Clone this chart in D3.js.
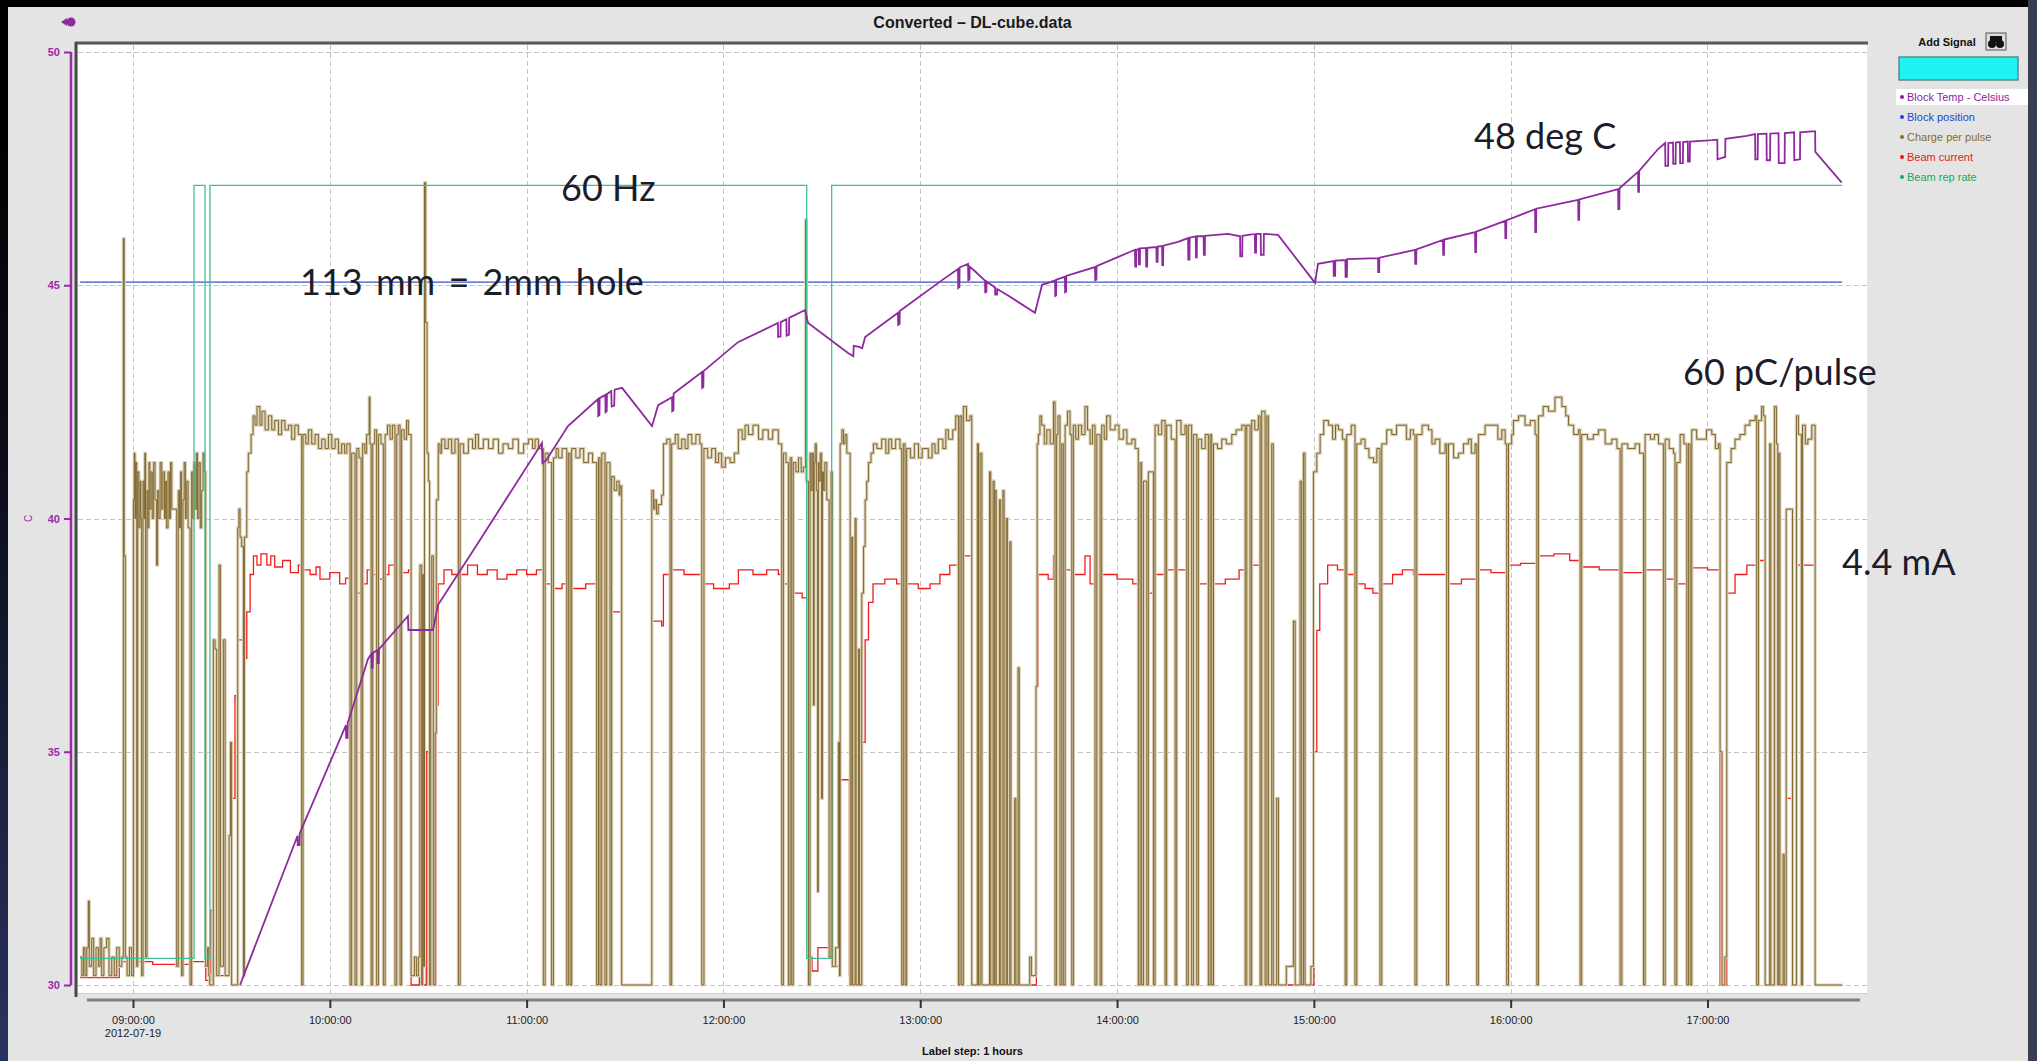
<!DOCTYPE html>
<html><head><meta charset="utf-8">
<script src="https://cdn.jsdelivr.net/npm/d3@7"></script>
<style>
html,body{margin:0;padding:0;background:#000;overflow:hidden}
svg{display:block}
</style></head><body>
<svg id="chart" width="2037" height="1061"></svg>
<script>
// ---------------- DATA (time in decimal hours of 2012-07-19) ----------------
const chartTitle = "Converted \u2013 DL-cube.data";
const hourTicks = [9, 10, 11, 12, 13, 14, 15, 16, 17];
const hourTickLabels = ["09:00:00", "10:00:00", "11:00:00", "12:00:00", "13:00:00", "14:00:00", "15:00:00", "16:00:00", "17:00:00"];
const dateLabel = "2012-07-19";
const xAxisCaption = "Label step: 1 hours";
const tempTicks = [30, 35, 40, 45, 50];
const legendNames = ["Block Temp - Celsius", "Block position", "Charge per pulse", "Beam current", "Beam rep rate"];

// Block temperature, deg C
const blockTemp = [[9.544,30.0],[9.836,33.2],[9.837,33.0],[9.846,33.0],[9.847,33.25],[10.082,35.57],[10.083,35.3],[10.090,35.3],[10.091,35.62],[10.194,36.99],[10.212,37.10],[10.213,36.8],[10.218,36.8],[10.219,37.12],[10.243,37.18],[10.244,36.9],[10.249,36.9],[10.250,37.2],[10.397,37.91],[10.399,37.61],[10.524,37.61],[10.550,38.15],[10.763,39.54],[11.078,41.62],[11.080,41.19],[11.100,41.25],[11.210,41.98],[11.363,42.56],[11.364,42.20],[11.370,42.22],[11.371,42.58],[11.400,42.65],[11.401,42.28],[11.407,42.30],[11.408,42.67],[11.430,42.73],[11.432,42.40],[11.445,42.42],[11.447,42.76],[11.485,42.80],[11.637,41.98],[11.668,42.43],[11.739,42.60],[11.740,42.30],[11.746,42.32],[11.747,42.68],[11.891,43.14],[11.892,42.80],[11.898,42.82],[11.899,43.16],[12.074,43.78],[12.277,44.19],[12.278,43.89],[12.290,43.90],[12.291,44.21],[12.320,44.27],[12.321,43.92],[12.333,43.94],[12.334,44.30],[12.415,44.47],[12.430,44.19],[12.633,43.55],[12.660,43.48],[12.662,43.70],[12.690,43.68],[12.705,43.65],[12.720,43.89],[12.887,44.41],[12.888,44.15],[12.895,44.17],[12.896,44.45],[13.111,45.11],[13.192,45.35],[13.193,44.94],[13.199,44.96],[13.200,45.38],[13.243,45.46],[13.244,45.11],[13.250,45.12],[13.251,45.40],[13.278,45.30],[13.329,45.10],[13.330,44.85],[13.336,44.86],[13.337,45.08],[13.380,44.95],[13.381,44.80],[13.390,44.80],[13.391,44.92],[13.446,44.78],[13.583,44.41],[13.619,45.01],[13.685,45.10],[13.686,44.77],[13.690,44.78],[13.691,45.12],[13.735,45.18],[13.736,44.85],[13.741,44.86],[13.742,45.20],[13.888,45.39],[13.889,45.11],[13.895,45.12],[13.896,45.41],[14.091,45.76],[14.092,45.40],[14.097,45.40],[14.098,45.76],[14.110,45.78],[14.111,45.45],[14.116,45.45],[14.117,45.79],[14.147,45.80],[14.148,45.40],[14.153,45.40],[14.154,45.80],[14.200,45.82],[14.201,45.50],[14.206,45.50],[14.207,45.83],[14.229,45.84],[14.230,45.43],[14.234,45.43],[14.235,45.85],[14.310,45.93],[14.361,46.01],[14.362,45.55],[14.368,45.55],[14.369,46.02],[14.400,46.05],[14.401,45.60],[14.405,45.60],[14.406,46.05],[14.440,46.05],[14.441,45.65],[14.446,45.65],[14.447,46.06],[14.564,46.10],[14.625,46.05],[14.626,45.62],[14.636,45.62],[14.637,46.06],[14.700,46.10],[14.701,45.70],[14.706,45.70],[14.707,46.10],[14.730,46.10],[14.731,45.65],[14.745,45.65],[14.746,46.10],[14.818,46.08],[15.006,45.05],[15.021,45.46],[15.100,45.52],[15.101,45.20],[15.108,45.20],[15.109,45.53],[15.160,45.54],[15.161,45.18],[15.168,45.18],[15.169,45.56],[15.326,45.58],[15.327,45.28],[15.332,45.28],[15.333,45.59],[15.514,45.76],[15.515,45.46],[15.520,45.46],[15.521,45.77],[15.656,45.97],[15.657,45.65],[15.661,45.65],[15.662,45.98],[15.819,46.14],[15.820,45.71],[15.824,45.71],[15.825,46.15],[15.972,46.38],[15.973,46.01],[15.977,46.01],[15.978,46.39],[16.124,46.63],[16.125,46.14],[16.129,46.14],[16.130,46.64],[16.343,46.83],[16.344,46.40],[16.348,46.40],[16.349,46.84],[16.546,47.06],[16.547,46.63],[16.552,46.63],[16.553,47.08],[16.647,47.43],[16.648,47.0],[16.652,47.0],[16.653,47.45],[16.749,47.92],[16.785,48.05],[16.786,47.56],[16.800,47.56],[16.801,48.05],[16.825,48.06],[16.826,47.60],[16.838,47.60],[16.839,48.06],[16.860,48.07],[16.861,47.62],[16.875,47.62],[16.876,48.07],[16.900,48.08],[16.901,47.65],[16.910,47.65],[16.911,48.08],[17.023,48.11],[17.050,48.12],[17.051,47.70],[17.090,47.75],[17.091,48.14],[17.200,48.20],[17.242,48.24],[17.243,47.70],[17.255,47.70],[17.256,48.24],[17.300,48.25],[17.301,47.68],[17.318,47.68],[17.319,48.25],[17.361,48.26],[17.362,47.62],[17.392,47.62],[17.393,48.26],[17.440,48.28],[17.441,47.68],[17.470,47.70],[17.471,48.28],[17.530,48.30],[17.547,48.30],[17.548,47.86],[17.682,47.20]];

// Block position, mm
const blockPosition = [[8.731,113],[17.684,113]];

// Beam rep rate, Hz (step)
const repRate = [[8.731,2],[9.310,60],[9.366,2],[9.391,60],[12.423,2],[12.550,60],[17.684,60]];

// Charge per pulse, pC (step)
const chargePerPulse = [[8.731,3],[8.740,1],[8.748,4],[8.756,1],[8.765,4],[8.773,9],[8.778,2],[8.790,5],[8.800,1],[8.812,4],[8.824,2],[8.833,5],[8.841,1],[8.852,4],[8.866,5],[8.878,1],[8.892,3],[8.905,1],[8.917,4],[8.930,2],[8.943,3],[8.951,80],[8.955,46],[8.961,3],[8.970,1],[8.982,4],[8.993,1],[9.002,52],[9.006,57],[9.010,50],[9.014,56],[9.019,2],[9.024,55],[9.030,49],[9.036,54],[9.040,50],[9.044,1],[9.051,54],[9.056,50],[9.060,57],[9.064,3],[9.071,53],[9.076,49],[9.081,56],[9.086,51],[9.092,55],[9.098,50],[9.105,56],[9.112,52],[9.120,45],[9.125,53],[9.131,50],[9.138,56],[9.146,51],[9.152,55],[9.160,50],[9.166,54],[9.171,49],[9.178,55],[9.185,50],[9.191,56],[9.197,51],[9.222,2],[9.230,53],[9.236,49],[9.242,55],[9.247,1],[9.254,52],[9.260,56],[9.266,50],[9.273,54],[9.280,49],[9.290,0],[9.298,55],[9.304,50],[9.310,56],[9.315,51],[9.322,57],[9.328,50],[9.335,56],[9.342,49],[9.349,53],[9.356,57],[9.362,55],[9.369,2],[9.379,4],[9.385,1],[9.390,0],[9.408,37],[9.417,36],[9.425,1],[9.437,45],[9.444,2],[9.459,37],[9.468,1],[9.488,16],[9.495,26],[9.501,0],[9.532,49],[9.538,51],[9.544,48],[9.552,47],[9.561,1],[9.566,48],[9.578,55],[9.586,57],[9.600,59],[9.610,61],[9.620,60],[9.630,62],[9.645,60],[9.655,61.5],[9.671,59.5],[9.688,61],[9.705,59.5],[9.720,60.5],[9.739,59],[9.755,60.5],[9.772,59.5],[9.790,60],[9.806,58.5],[9.822,60],[9.840,59],[9.857,0],[9.864,59],[9.878,58],[9.891,59.5],[9.908,58],[9.925,59],[9.942,57.5],[9.959,58.5],[9.976,57.5],[9.993,59],[10.010,57.5],[10.027,58.5],[10.044,57],[10.060,58],[10.075,57],[10.086,58],[10.103,0],[10.111,57],[10.128,0],[10.137,57.5],[10.148,56.5],[10.159,0],[10.167,58],[10.178,57],[10.187,59],[10.200,63],[10.204,58],[10.210,0],[10.218,58],[10.228,59.5],[10.238,0],[10.247,59],[10.260,58],[10.272,0],[10.281,59],[10.293,60],[10.306,58.5],[10.318,60],[10.331,0],[10.340,59],[10.348,60],[10.357,0],[10.365,59.5],[10.378,58.5],[10.390,60.5],[10.399,59],[10.413,1],[10.430,3],[10.440,1],[10.450,3],[10.458,45],[10.467,0],[10.472,44],[10.477,2],[10.481,86],[10.487,71],[10.494,57],[10.501,54],[10.507,0],[10.513,38],[10.518,46],[10.526,0],[10.535,27],[10.541,52],[10.551,58],[10.560,57],[10.568,58.5],[10.585,57.5],[10.602,58.5],[10.619,57],[10.636,58.5],[10.653,0],[10.662,58],[10.680,57],[10.704,58.5],[10.725,57.5],[10.740,59],[10.755,57.5],[10.780,58.5],[10.806,57.5],[10.830,58.5],[10.857,57],[10.880,58],[10.907,57.5],[10.930,58.5],[10.958,57],[10.985,58],[11.009,58.5],[11.030,57.5],[11.043,58.5],[11.060,57.5],[11.085,0],[11.094,57],[11.110,56],[11.127,0],[11.136,56.5],[11.150,57.5],[11.161,56.5],[11.180,57.5],[11.204,0],[11.212,57],[11.221,0],[11.229,57.5],[11.250,56.5],[11.271,57.5],[11.290,56],[11.314,57],[11.335,56],[11.356,0],[11.365,56.5],[11.373,0],[11.382,57],[11.398,0],[11.407,56],[11.424,0],[11.432,54.5],[11.445,53],[11.458,54],[11.470,52.5],[11.475,53.5],[11.483,0],[11.636,53],[11.645,51],[11.652,52],[11.660,50.5],[11.669,51.5],[11.686,52.5],[11.695,58],[11.712,58.5],[11.729,0],[11.737,58],[11.755,59],[11.770,57.5],[11.788,58.5],[11.805,57.5],[11.820,59],[11.839,58],[11.860,59],[11.880,58],[11.890,0],[11.901,57.5],[11.920,56.5],[11.940,57.5],[11.960,56],[11.975,57],[11.991,55.5],[12.010,56.5],[12.034,56],[12.055,57],[12.076,59.5],[12.095,58.5],[12.110,60],[12.127,59],[12.150,60],[12.178,58.5],[12.200,59.5],[12.228,58.5],[12.250,59.5],[12.279,58],[12.296,0],[12.305,57],[12.318,56],[12.330,0],[12.339,56.5],[12.347,0],[12.355,56],[12.368,55],[12.381,56.5],[12.395,55],[12.406,55.5],[12.418,82],[12.421,54],[12.432,0],[12.440,57],[12.445,53],[12.451,57],[12.457,30],[12.461,56],[12.466,58],[12.472,53],[12.479,10],[12.482,56],[12.486,54],[12.492,57],[12.499,20],[12.503,55],[12.508,53],[12.515,56],[12.525,52],[12.537,3],[12.547,55],[12.553,2],[12.570,4],[12.584,26],[12.590,1],[12.593,58],[12.602,59.5],[12.610,58],[12.618,59],[12.627,57],[12.644,0],[12.652,48],[12.657,0],[12.669,50],[12.674,0],[12.686,36],[12.692,0],[12.703,42],[12.712,47],[12.720,52],[12.728,54],[12.737,56],[12.750,57],[12.762,58],[12.780,57.5],[12.804,58.5],[12.825,57],[12.840,58.5],[12.855,57.5],[12.875,58.5],[12.897,57.5],[12.906,0],[12.914,58],[12.923,0],[12.931,57.5],[12.950,56.5],[12.970,58],[12.991,56.5],[13.010,57.5],[13.041,56.5],[13.060,58],[13.075,57],[13.092,58.5],[13.115,57.5],[13.130,59.5],[13.143,58.5],[13.165,59.5],[13.180,61],[13.194,0],[13.202,61],[13.211,0],[13.219,62],[13.235,60.5],[13.253,61],[13.262,0],[13.290,58],[13.296,0],[13.304,57],[13.313,0],[13.352,55],[13.358,0],[13.370,54],[13.376,0],[13.380,53],[13.386,0],[13.403,52],[13.409,0],[13.420,53],[13.426,0],[13.437,50],[13.443,0],[13.455,47.5],[13.461,0],[13.480,20],[13.486,0],[13.497,34],[13.503,0],[13.556,3],[13.565,1],[13.588,32],[13.594,58],[13.600,59],[13.608,61],[13.617,60],[13.630,58],[13.643,59.5],[13.660,58],[13.677,62.5],[13.685,0],[13.693,59],[13.700,61],[13.710,0],[13.719,58],[13.727,0],[13.736,60],[13.748,61.5],[13.761,59],[13.770,0],[13.778,60],[13.790,58.5],[13.804,60],[13.820,59],[13.837,62],[13.850,59.5],[13.863,58],[13.875,60],[13.888,0],[13.897,59],[13.914,0],[13.922,60],[13.935,58.5],[13.947,61],[13.965,59.5],[13.990,60],[14.010,58.5],[14.032,59.5],[14.050,58],[14.075,58.5],[14.092,57.5],[14.108,0],[14.117,56],[14.125,0],[14.134,54],[14.151,0],[14.159,55],[14.185,0],[14.193,60],[14.210,59],[14.227,60.5],[14.244,0],[14.252,60],[14.275,58.5],[14.295,0],[14.303,60.5],[14.325,59],[14.345,60],[14.354,0],[14.362,60],[14.379,0],[14.388,59],[14.405,0],[14.413,58.5],[14.430,57.5],[14.448,59],[14.464,0],[14.473,59],[14.481,0],[14.490,58],[14.510,57.5],[14.532,58.5],[14.555,58],[14.583,59],[14.605,59.5],[14.634,60],[14.651,0],[14.659,60],[14.676,0],[14.684,60.5],[14.700,59.5],[14.718,61],[14.727,0],[14.735,61.5],[14.752,0],[14.761,61],[14.769,0],[14.786,58],[14.794,0],[14.811,20],[14.820,0],[14.860,2],[14.896,39],[14.905,0],[14.930,54],[14.938,0],[14.947,57],[14.955,0],[14.985,2],[14.998,55],[15.015,57],[15.032,59],[15.050,60.5],[15.074,60],[15.095,58.5],[15.110,60],[15.125,59.5],[15.145,58.5],[15.159,0],[15.167,59],[15.190,60],[15.209,0],[15.218,58],[15.240,58.5],[15.260,57.5],[15.280,56.5],[15.303,56],[15.320,57.5],[15.336,0],[15.345,58],[15.370,59.5],[15.396,59],[15.420,60],[15.447,60],[15.470,58.5],[15.490,59.5],[15.506,59],[15.514,0],[15.523,59],[15.550,60],[15.582,59.5],[15.600,58],[15.616,58.5],[15.640,57],[15.667,58],[15.675,0],[15.684,58],[15.710,56.5],[15.735,57],[15.760,58],[15.785,58.5],[15.800,57],[15.819,58],[15.828,0],[15.836,59],[15.870,60],[15.904,60],[15.935,58.5],[15.955,59.5],[15.972,58],[15.980,0],[15.989,58],[16.005,59],[16.014,60.5],[16.040,61],[16.073,60],[16.100,60.5],[16.124,59],[16.133,0],[16.141,61],[16.165,62],[16.192,61.5],[16.225,63],[16.260,62],[16.280,61],[16.294,60],[16.320,59],[16.344,59.5],[16.353,0],[16.361,59],[16.390,58.5],[16.420,59],[16.446,59.5],[16.480,58],[16.514,58.5],[16.540,57.5],[16.556,0],[16.565,58],[16.595,57.5],[16.632,58],[16.655,57],[16.675,0],[16.683,59],[16.710,58.5],[16.730,59],[16.751,58],[16.776,0],[16.785,58.5],[16.805,57.5],[16.827,57],[16.835,0],[16.844,56],[16.861,59],[16.880,58],[16.895,0],[16.903,58],[16.912,0],[16.920,59.5],[16.945,58.5],[16.971,58.5],[16.995,59.5],[17.022,59],[17.040,57.5],[17.056,58],[17.064,25],[17.074,0],[17.088,3],[17.098,56],[17.120,57.5],[17.140,58.5],[17.165,59],[17.191,60],[17.215,60.5],[17.242,61],[17.250,0],[17.259,60.5],[17.275,62],[17.284,61],[17.293,0],[17.316,58],[17.322,0],[17.340,62],[17.350,58],[17.357,0],[17.362,57],[17.368,0],[17.384,14],[17.390,0],[17.400,51],[17.428,51],[17.432,0],[17.452,61],[17.462,59],[17.477,0],[17.483,60],[17.497,58],[17.510,58.5],[17.530,60],[17.547,0],[17.684,0]];

// Beam current, mA (step)
const beamCurrent = [[8.731,0.08],[8.930,0.25],[9.100,0.22],[9.300,0.25],[9.370,0.05],[9.395,0.8],[9.410,1.3],[9.425,0.1],[9.500,2.0],[9.518,3.1],[9.535,3.7],[9.561,3.5],[9.578,4.0],[9.595,4.4],[9.612,4.6],[9.630,4.5],[9.650,4.62],[9.680,4.5],[9.700,4.6],[9.720,4.48],[9.760,4.55],[9.800,4.42],[9.840,4.5],[9.857,0],[9.864,4.45],[9.900,4.4],[9.930,4.48],[9.950,4.35],[10.000,4.42],[10.050,4.3],[10.080,4.36],[10.103,0],[10.111,4.3],[10.128,0],[10.137,4.2],[10.159,0],[10.167,4.3],[10.190,4.45],[10.210,0],[10.218,4.4],[10.238,0],[10.247,4.35],[10.272,0],[10.281,4.4],[10.300,4.5],[10.331,0],[10.340,4.45],[10.357,0],[10.365,4.42],[10.400,4.45],[10.413,0],[10.455,4.4],[10.465,0],[10.490,2.5],[10.500,0],[10.520,1.5],[10.530,0],[10.540,3.0],[10.550,4.3],[10.580,4.45],[10.620,4.4],[10.653,0],[10.662,4.4],[10.700,4.5],[10.750,4.4],[10.800,4.45],[10.850,4.35],[10.900,4.4],[10.950,4.45],[11.000,4.4],[11.050,4.45],[11.085,0],[11.094,4.3],[11.127,0],[11.136,4.25],[11.180,4.3],[11.204,0],[11.212,4.3],[11.221,0],[11.229,4.25],[11.300,4.3],[11.356,0],[11.365,4.25],[11.373,0],[11.382,4.3],[11.398,0],[11.407,4.25],[11.424,0],[11.432,4.0],[11.483,0],[11.636,3.9],[11.686,3.85],[11.695,4.4],[11.729,0],[11.737,4.45],[11.800,4.4],[11.890,0],[11.901,4.3],[11.950,4.25],[12.030,4.3],[12.076,4.45],[12.150,4.4],[12.220,4.45],[12.279,4.4],[12.296,0],[12.305,4.3],[12.330,0],[12.339,4.2],[12.347,0],[12.355,4.2],[12.400,4.15],[12.425,0.3],[12.450,0.15],[12.480,0.4],[12.550,0.2],[12.590,2.2],[12.640,0.1],[12.700,2.6],[12.720,3.7],[12.737,4.1],[12.760,4.3],[12.820,4.35],[12.880,4.3],[12.906,0],[12.914,4.25],[12.923,0],[12.931,4.3],[12.990,4.25],[13.050,4.3],[13.100,4.4],[13.150,4.5],[13.194,0],[13.202,4.55],[13.211,0],[13.219,4.6],[13.262,0],[13.290,4.3],[13.296,0],[13.370,3.0],[13.380,0],[13.410,2.2],[13.420,0],[13.590,3.2],[13.600,4.4],[13.650,4.35],[13.677,4.6],[13.685,0],[13.693,4.4],[13.710,0],[13.719,4.3],[13.727,0],[13.736,4.45],[13.770,0],[13.778,4.4],[13.837,4.6],[13.863,4.3],[13.888,0],[13.897,4.4],[13.914,0],[13.922,4.4],[14.000,4.35],[14.080,4.3],[14.108,0],[14.117,4.1],[14.125,0],[14.134,4.1],[14.151,0],[14.159,4.2],[14.185,0],[14.193,4.4],[14.244,0],[14.252,4.45],[14.295,0],[14.303,4.45],[14.354,0],[14.362,4.4],[14.379,0],[14.388,4.35],[14.405,0],[14.413,4.3],[14.464,0],[14.473,4.35],[14.481,0],[14.490,4.3],[14.550,4.35],[14.620,4.45],[14.651,0],[14.659,4.45],[14.676,0],[14.684,4.5],[14.727,0],[14.735,4.55],[14.752,0],[14.761,4.5],[14.769,0],[15.000,2.5],[15.015,3.8],[15.030,4.3],[15.070,4.5],[15.120,4.45],[15.159,0],[15.167,4.4],[15.209,0],[15.218,4.3],[15.260,4.25],[15.300,4.2],[15.336,0],[15.345,4.3],[15.400,4.4],[15.450,4.45],[15.506,4.4],[15.514,0],[15.523,4.4],[15.600,4.4],[15.675,0],[15.684,4.3],[15.750,4.35],[15.828,0],[15.836,4.45],[15.900,4.42],[15.980,0],[15.989,4.5],[16.050,4.52],[16.133,0],[16.141,4.6],[16.220,4.62],[16.300,4.55],[16.353,0],[16.361,4.48],[16.450,4.45],[16.556,0],[16.565,4.42],[16.675,0],[16.683,4.45],[16.776,0],[16.785,4.35],[16.835,0],[16.844,4.3],[16.895,0],[16.903,4.4],[16.912,0],[16.920,4.47],[17.000,4.45],[17.064,0],[17.098,4.2],[17.140,4.4],[17.200,4.5],[17.250,0],[17.259,4.55],[17.293,0],[17.316,4.45],[17.322,0],[17.340,4.5],[17.357,0],[17.384,1.0],[17.390,0],[17.400,2.0],[17.432,0],[17.452,4.5],[17.477,0],[17.483,4.5],[17.547,0],[17.684,0]];

// ---------------- DRAWING ----------------
const W = 2037, H = 1061;
const svg = d3.select("#chart");
const P = {left: 78, right: 1867, top: 45, bottom: 993, y50: 52, y30: 985};
const colors = {temp: "#8e2a9e", pos: "#3a55c4", charge: "#6a4e0e", chargeHalo: "#ddd3ba", current: "#f01e1e", rep: "#3fbf96"};
const legendColors = ["#8b1c9c", "#2244cc", "#8a6d1e", "#e8141c", "#18a860"];

const defs = svg.append("defs");
const bg = defs.append("radialGradient").attr("id", "bg").attr("cx", "0").attr("cy", "1").attr("r", "0.9");
bg.append("stop").attr("offset", "0").attr("stop-color", "#2a3260");
bg.append("stop").attr("offset", "0.6").attr("stop-color", "#0c0e1c");
bg.append("stop").attr("offset", "1").attr("stop-color", "#000");
defs.append("clipPath").attr("id", "plotclip").append("rect")
  .attr("x", P.left).attr("y", P.top).attr("width", P.right - P.left).attr("height", P.bottom - P.top);

svg.append("rect").attr("width", W).attr("height", H).attr("fill", "url(#bg)");
svg.append("rect").attr("x", 2028).attr("y", 0).attr("width", 9).attr("height", H).attr("fill", "#3a3e52");
svg.append("rect").attr("x", 8).attr("y", 7).attr("width", 2020).attr("height", H - 7).attr("fill", "#e4e4e4");
svg.append("rect").attr("x", P.left).attr("y", P.top).attr("width", P.right - P.left).attr("height", P.bottom - P.top).attr("fill", "#fff");

// scales
const x = d3.scaleLinear().domain([8.7205, 17.8105]).range([P.left, P.right]);
const yTemp = d3.scaleLinear().domain([30, 50]).range([P.y30, P.y50]);
const yCharge = d3.scaleLinear().domain([0, 100]).range([P.y30, P.y50]);
const yCurrent = d3.scaleLinear().domain([0, 10]).range([P.y30, P.y50]);
const yRep = d3.scaleLinear().domain([0, 70]).range([P.y30, P.y50]);
const yPos = d3.scaleLinear().domain([0, 150]).range([P.y30, P.y50]);

// grid
const grid = svg.append("g").attr("stroke", "#c4c4c4").attr("stroke-width", 1).attr("stroke-dasharray", "5,3");
grid.selectAll("line.h").data(tempTicks).join("line").attr("class", "h")
  .attr("x1", P.left).attr("x2", P.right).attr("y1", d => Math.round(yTemp(d)) + 0.5).attr("y2", d => Math.round(yTemp(d)) + 0.5);
grid.selectAll("line.v").data(hourTicks).join("line").attr("class", "v")
  .attr("x1", d => Math.round(x(d)) + 0.5).attr("x2", d => Math.round(x(d)) + 0.5).attr("y1", P.top).attr("y2", P.bottom);

// frame
svg.append("line").attr("x1", 75).attr("x2", P.right + 1).attr("y1", 43).attr("y2", 43).attr("stroke", "#5a5a5a").attr("stroke-width", 3);
svg.append("line").attr("x1", 76).attr("x2", 76).attr("y1", 42).attr("y2", 997).attr("stroke", "#4a4a4a").attr("stroke-width", 3);
svg.append("line").attr("x1", P.left).attr("x2", P.right).attr("y1", P.bottom + 0.5).attr("y2", P.bottom + 0.5).attr("stroke", "#d0d0d0").attr("stroke-width", 1);

// series
const plot = svg.append("g").attr("clip-path", "url(#plotclip)");
const stepLine = (ys) => d3.line().x(d => x(d[0])).y(d => ys(d[1])).curve(d3.curveStepAfter);
const linLine = (ys) => d3.line().x(d => x(d[0])).y(d => ys(d[1]));

plot.append("path").datum(blockPosition).attr("d", linLine(yPos)).attr("fill", "none").attr("stroke", colors.pos).attr("stroke-width", 1.2);
plot.append("path").datum(beamCurrent).attr("d", stepLine(yCurrent)).attr("fill", "none").attr("stroke", colors.current).attr("stroke-width", 1.3);
plot.append("path").datum(chargePerPulse).attr("d", stepLine(yCharge)).attr("fill", "none").attr("stroke", colors.chargeHalo).attr("stroke-width", 3.2);
plot.append("path").datum(chargePerPulse).attr("d", stepLine(yCharge)).attr("fill", "none").attr("stroke", colors.charge).attr("stroke-width", 1).attr("stroke-opacity", 0.8);
plot.append("path").datum(repRate).attr("d", stepLine(yRep)).attr("fill", "none").attr("stroke", colors.rep).attr("stroke-width", 1.3);
plot.append("path").datum(blockTemp).attr("d", linLine(yTemp)).attr("fill", "none").attr("stroke", colors.temp).attr("stroke-width", 1.8);

// Y axis (temperature)
const yAxisG = svg.append("g").attr("transform", "translate(71,0)");
yAxisG.call(d3.axisLeft(yTemp).tickValues(tempTicks).tickSize(7).tickPadding(4).tickFormat(d3.format("d")));
yAxisG.select(".domain").attr("stroke", "#9a2aa8").attr("stroke-width", 2.5).attr("d", `M0,${P.y50}V${P.y30}`);
yAxisG.selectAll(".tick line").attr("stroke", "#9a2aa8").attr("stroke-width", 2);
yAxisG.selectAll(".tick text").attr("fill", "#9a2aa8").attr("font-family", "Liberation Sans, Arial, sans-serif").attr("font-size", 11).attr("font-weight", "bold");
svg.append("text").attr("transform", `translate(32,${yTemp(40)}) rotate(-90)`).attr("text-anchor", "middle")
  .attr("fill", "#9a2aa8").attr("font-family", "Liberation Sans, Arial, sans-serif").attr("font-size", 10).text("C");
svg.append("circle").attr("cx", 71).attr("cy", 22).attr("r", 4.5).attr("fill", "#8e2a9e");
svg.append("path").attr("d", "M61,22 L67,18 L67,26 Z").attr("fill", "#8e2a9e");

// X axis
const xAxisG = svg.append("g").attr("transform", "translate(0,1000)");
xAxisG.append("line").attr("x1", 87).attr("x2", 1860).attr("stroke", "#808080").attr("stroke-width", 3);
xAxisG.call(g => {
  const ax = d3.axisBottom(x).tickValues(hourTicks).tickSize(8).tickPadding(10).tickFormat((d, i) => hourTickLabels[i]);
  const sub = g.append("g").call(ax);
  sub.select(".domain").remove();
  sub.selectAll(".tick line").attr("stroke", "#333").attr("stroke-width", 2);
  sub.selectAll(".tick text").attr("fill", "#222").attr("font-family", "Liberation Sans, Arial, sans-serif").attr("font-size", 11).attr("dy", "0.5em");
});
svg.append("text").attr("x", x(hourTicks[0])).attr("y", 1037).attr("text-anchor", "middle")
  .attr("fill", "#222").attr("font-family", "Liberation Sans, Arial, sans-serif").attr("font-size", 11).text(dateLabel);
svg.append("text").attr("x", (P.left + P.right) / 2).attr("y", 1055).attr("text-anchor", "middle")
  .attr("fill", "#111").attr("font-family", "Liberation Sans, Arial, sans-serif").attr("font-size", 11).attr("font-weight", "bold").text(xAxisCaption);

// title
svg.append("text").attr("x", (P.left + P.right) / 2).attr("y", 28).attr("text-anchor", "middle")
  .attr("fill", "#1a1a1a").attr("font-family", "Liberation Sans, Arial, sans-serif").attr("font-size", 16).attr("font-weight", "bold").text(chartTitle);

// right panel: Add Signal + legend
svg.append("text").attr("x", 1947).attr("y", 46).attr("text-anchor", "middle").attr("fill", "#111")
  .attr("font-family", "Liberation Sans, Arial, sans-serif").attr("font-size", 11).attr("font-weight", "bold").text("Add Signal");
const ic = svg.append("g").attr("transform", "translate(1986,33)");
ic.append("rect").attr("width", 20).attr("height", 17).attr("fill", "#ddd").attr("stroke", "#555");
ic.append("circle").attr("cx", 6).attr("cy", 11).attr("r", 4).attr("fill", "#111");
ic.append("circle").attr("cx", 14).attr("cy", 11).attr("r", 4).attr("fill", "#111");
ic.append("rect").attr("x", 4).attr("y", 3).attr("width", 12).attr("height", 6).attr("fill", "#111");
svg.append("rect").attr("x", 1899).attr("y", 57).attr("width", 119).attr("height", 23).attr("fill", "#1ef2f2").attr("stroke", "#5a8a8a").attr("stroke-width", 1.5);
svg.append("rect").attr("x", 1896).attr("y", 89).attr("width", 132).attr("height", 16).attr("fill", "#fff");
const leg = svg.append("g");
legendNames.forEach((name, i) => {
  const g = leg.append("g").attr("transform", `translate(1900,${97 + i * 20})`);
  g.append("circle").attr("cx", 2).attr("cy", 0).attr("r", 2).attr("fill", legendColors[i]);
  g.append("text").attr("x", 7).attr("y", 4).attr("fill", legendColors[i]).attr("font-family", "Liberation Sans, Arial, sans-serif")
    .attr("font-size", 11).text(name);
});

// annotations
const ann = svg.append("g").attr("font-family", "Lato, 'Open Sans', sans-serif").attr("font-size", 36).attr("fill", "#1c1c2a");
ann.append("text").attr("x", x(11.175)).attr("y", yRep(60) + 16).text("60 Hz");
ann.append("text").attr("x", x(9.849)).attr("y", yPos(113) + 13).attr("word-spacing", 4).text("113 mm = 2mm hole");
ann.append("text").attr("x", x(15.814)).attr("y", yTemp(48) + 4).text("48 deg C");
ann.append("text").attr("x", x(16.876)).attr("y", yCharge(60) - 40).text("60 pC/pulse");
ann.append("text").attr("x", x(17.684)).attr("y", yCurrent(4.4) + 1).text("4.4 mA");
</script>
</body></html>
